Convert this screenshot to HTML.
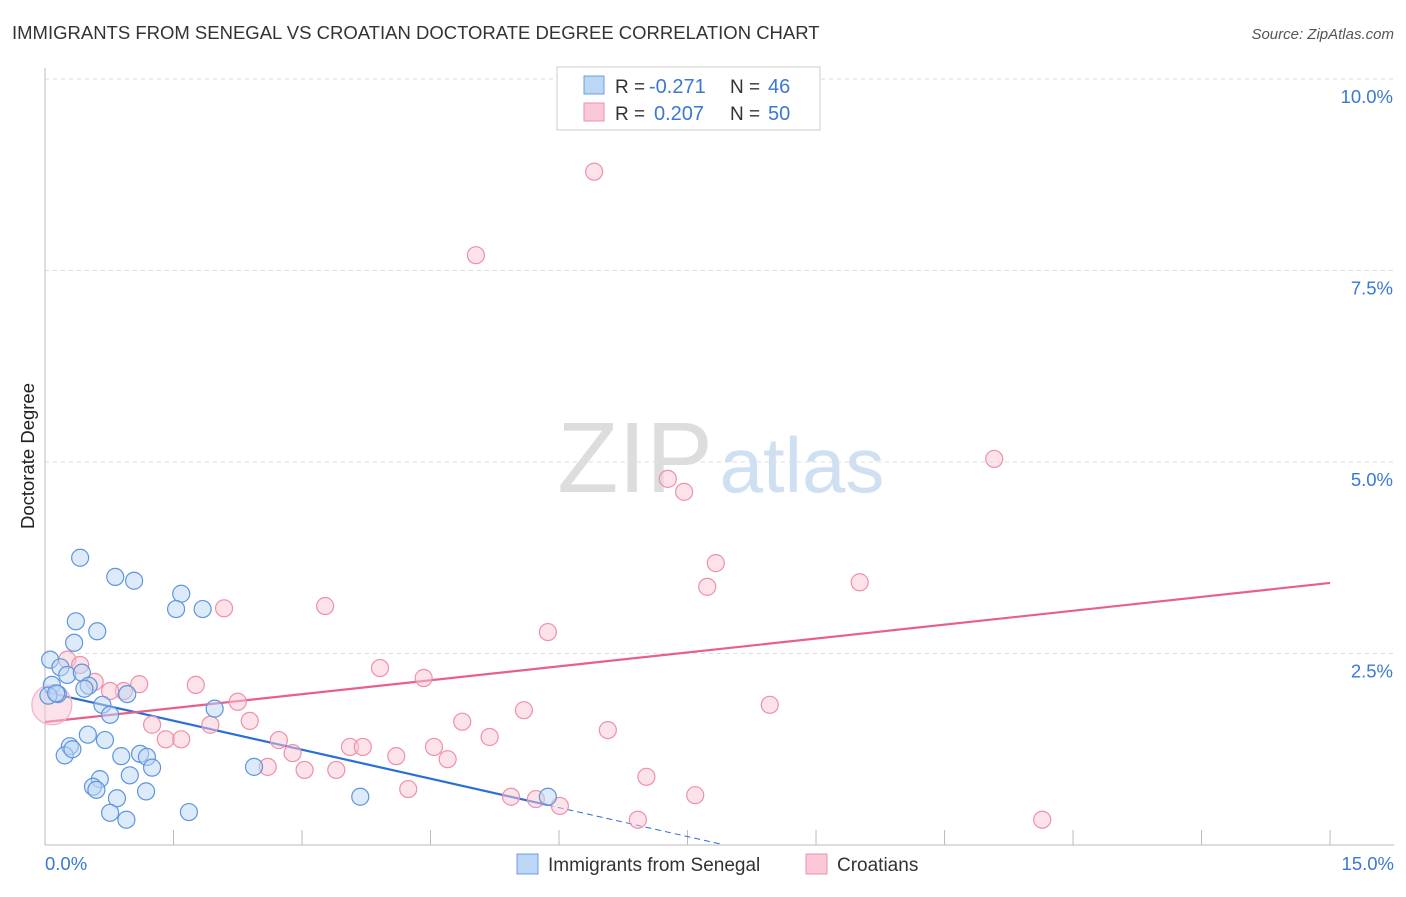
<!DOCTYPE html>
<html><head><meta charset="utf-8"><style>
body{margin:0;background:#fff;font-family:"Liberation Sans",sans-serif;}
svg text{font-family:"Liberation Sans",sans-serif;}
</style></head><body>
<svg id="c" width="1406" height="892">
<text x="12" y="39" font-size="18.5" fill="#333">IMMIGRANTS FROM SENEGAL VS CROATIAN DOCTORATE DEGREE CORRELATION CHART</text>
<text x="1394" y="39" font-size="15" fill="#555" font-style="italic" text-anchor="end">Source: ZipAtlas.com</text>
<text x="34" y="456" font-size="18.5" fill="#222" text-anchor="middle" transform="rotate(-90 34 456)">Doctorate Degree</text>
<g><text x="635" y="492" font-size="100" fill="#ddd" font-family="Liberation Serif" text-anchor="middle">ZIP</text><text x="802" y="492" font-size="78" fill="#cfe0f3" text-anchor="middle">atlas</text></g>
<g id="grid"></g><g id="axes"></g><g id="lines"></g><g id="pts"></g>
<g>
<rect x="557" y="67" width="263" height="63" fill="#fff" stroke="#ccc"/>
<rect x="584" y="76" width="20" height="18" fill="#bcd6f5" stroke="#6a9fe0"/>
<rect x="584" y="103" width="20" height="18" fill="#fac8d6" stroke="#ee90aa"/>
<text x="615" y="93" font-size="19" fill="#333">R =</text>
<text x="649" y="93" font-size="20" fill="#3a78d4">-0.271</text>
<text x="730" y="93" font-size="19" fill="#333">N =</text>
<text x="768" y="93" font-size="20" fill="#3a78d4">46</text>
<text x="615" y="120" font-size="19" fill="#333">R =</text>
<text x="654" y="120" font-size="20" fill="#3a78d4">0.207</text>
<text x="730" y="120" font-size="19" fill="#333">N =</text>
<text x="768" y="120" font-size="20" fill="#3a78d4">50</text>
</g>
<g>
<rect x="517" y="854" width="21" height="20" fill="#bcd6f5" stroke="#6a9fe0"/>
<text x="548" y="871" font-size="19" fill="#333">Immigrants from Senegal</text>
<rect x="806" y="854" width="21" height="20" fill="#fac8d6" stroke="#ee90aa"/>
<text x="837" y="871" font-size="19" fill="#333">Croatians</text>
</g>
</svg>
<script>
const blueX=[0.41,0.82,1.04,1.59,1.53,1.84,0.36,0.61,0.34,0.06,0.18,0.26,0.43,0.51,0.08,0.46,0.15,0.96,0.04,0.67,0.76,1.98,0.50,0.70,0.29,0.23,0.89,1.11,1.19,1.25,0.99,0.64,2.44,0.56,0.84,1.18,0.76,1.68,0.95,3.68,5.87,0.13,0.60,0.32];
const blueY=[3.75,3.50,3.45,3.28,3.08,3.08,2.92,2.79,2.64,2.42,2.32,2.22,2.25,2.08,2.09,2.04,1.97,1.97,1.95,1.83,1.70,1.78,1.44,1.37,1.29,1.17,1.16,1.19,1.15,1.01,0.91,0.86,1.02,0.76,0.61,0.70,0.42,0.43,0.33,0.63,0.63,1.98,0.72,1.25];
const pinkX=[6.41,5.03,11.08,7.27,7.46,7.83,7.73,9.51,2.09,3.27,5.87,0.26,0.41,0.58,1.10,1.76,0.92,0.76,3.91,4.42,2.25,5.59,8.46,1.93,2.39,4.87,1.25,1.41,1.59,2.73,5.19,6.57,2.89,3.56,3.71,4.10,4.54,4.70,2.60,3.03,3.40,4.24,7.02,7.59,5.44,5.73,6.01,6.92,11.64];
const pinkY=[8.79,7.70,5.04,4.78,4.61,3.68,3.37,3.43,3.09,3.12,2.78,2.42,2.35,2.13,2.10,2.09,2.01,2.01,2.31,2.18,1.87,1.76,1.83,1.57,1.62,1.61,1.57,1.38,1.38,1.37,1.41,1.50,1.20,1.28,1.28,1.16,1.28,1.12,1.02,0.98,0.98,0.73,0.89,0.65,0.63,0.60,0.51,0.33,0.33];
const bigX=[0.08],bigY=[1.83];
const blueTrend=[2.0,-0.252],blueSolidEnd=5.87,blueDashEnd=7.9;
const pinkTrend=[1.606,0.121];
const yTicks=[2.5,5.0,7.5,10.0];
const yTickLabels=["2.5%","5.0%","7.5%","10.0%"];
const xTickCount=10;
const NS="http://www.w3.org/2000/svg";
const sx=v=>45+v*85.67, sy=v=>845-v*76.6;
function mk(t,a,p){const e=document.createElementNS(NS,t);for(const k in a)e.setAttribute(k,a[k]);document.getElementById(p).appendChild(e);return e;}
yTicks.forEach((t,i)=>{
 let g=mk('line',{x1:45,x2:1394,y1:sy(t),y2:sy(t),stroke:'#ddd','stroke-dasharray':'4 4'},'grid');
 
 
 let tx=mk('text',{x:1393,y:sy(t)+24,'font-size':18.5,fill:'#3a78d4','text-anchor':'end'},'axes');
 tx.textContent=yTickLabels[i];
 
 
});
let ax=mk('line',{x1:45,x2:45,y1:68,y2:845,stroke:'#bbb'},'axes');


let bx=mk('line',{x1:45,x2:1394,y1:845,y2:845,stroke:'#bbb'},'axes');


for(let i=1;i<=xTickCount;i++){const x=sx(i*1.5);
 let t=mk('line',{x1:x,x2:x,y1:830,y2:845,stroke:'#bbb'},'axes');
 
 }
let l0=mk('text',{x:45,y:870,'font-size':18.5,fill:'#3a78d4'},'axes');l0.textContent='0.0%';


let l1=mk('text',{x:1394,y:870,'font-size':18.5,fill:'#3a78d4','text-anchor':'end'},'axes');l1.textContent='15.0%';


function dot(x,y,r,f,s,n){const c=mk('circle',{cx:sx(x),cy:sy(y),r:r,fill:f,'fill-opacity':0.5,stroke:s,'stroke-width':1.2},'pts');
 
 }
pinkX.forEach((x,i)=>dot(x,pinkY[i],8.5,'#fac8d6','#ee90aa','croatians-point'));
bigX.forEach((x,i)=>dot(x,bigY[i],20,'#fac8d6','#f3b0c3','croatians-point'));
blueX.forEach((x,i)=>dot(x,blueY[i],8.5,'#bcd6f5','#5e95dc','senegal-point'));
const by=x=>blueTrend[0]+blueTrend[1]*x, py=x=>pinkTrend[0]+pinkTrend[1]*x;
let bl=mk('line',{x1:sx(0),y1:sy(by(0)),x2:sx(blueSolidEnd),y2:sy(by(blueSolidEnd)),stroke:'#2a6fd6','stroke-width':2.2},'lines');


let bd=mk('line',{x1:sx(blueSolidEnd),y1:sy(by(blueSolidEnd)),x2:sx(blueDashEnd),y2:sy(by(blueDashEnd)),stroke:'#2a6fd6','stroke-width':1,'stroke-dasharray':'6 4'},'lines');


let pl=mk('line',{x1:sx(0),y1:sy(py(0)),x2:sx(15),y2:sy(py(15)),stroke:'#e8608a','stroke-width':2.2},'lines');


</script>
</body></html>
